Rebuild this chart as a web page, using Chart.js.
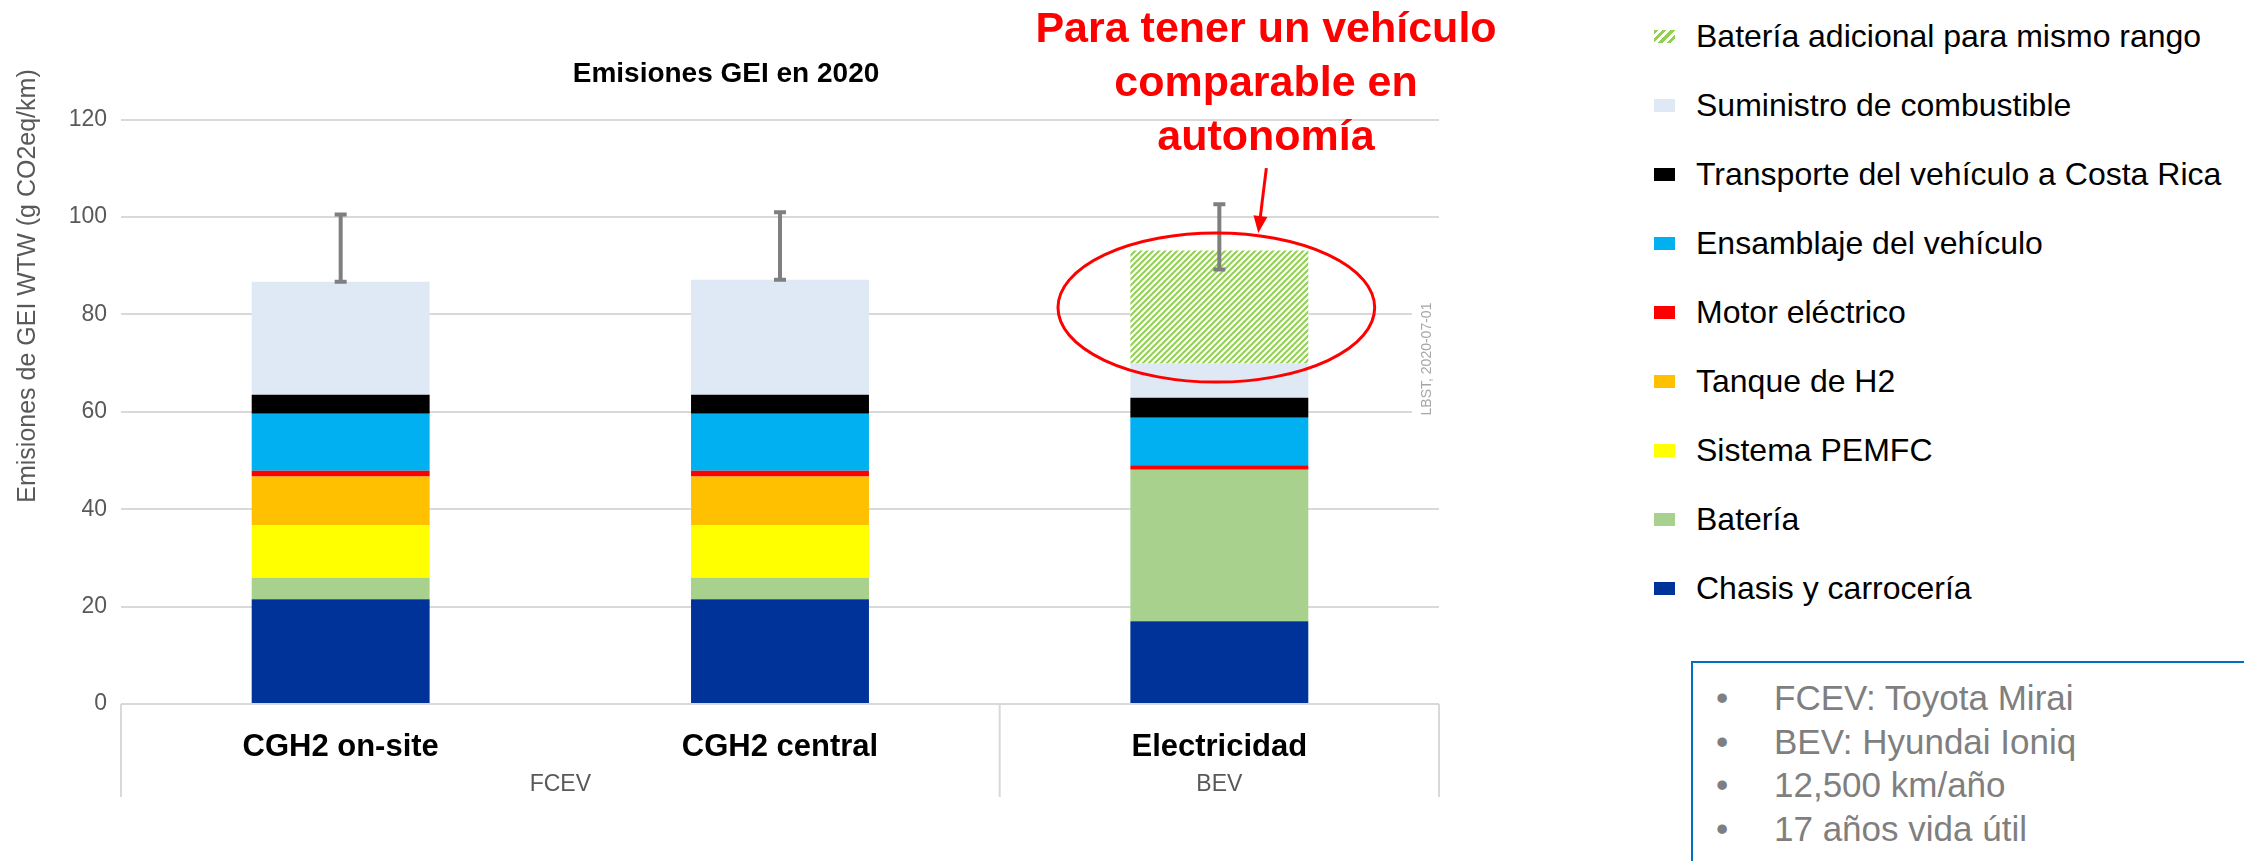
<!DOCTYPE html>
<html lang="es">
<head>
<meta charset="UTF-8">
<title>Emisiones GEI en 2020</title>
<style>
    html, body {
        margin: 0;
        padding: 0;
        background: #fff;
    }

    body {
        width: 2244px;
        height: 861px;
        overflow: hidden;
        position: relative;
        font-family: 'Liberation Sans', Arial, sans-serif;
    }

    #chartBox {
        position: absolute;
        left: 0;
        top: 0;
        width: 1490px;
        height: 861px;
    }

    .note {
        position: absolute;
        left: 966px;
        top: 0;
        width: 600px;
        text-align: center;
        color: #ff0000;
        font-weight: bold;
        font-size: 43px;
        line-height: 54px;
    }

    .legend-item {
        position: absolute;
        left: 1654px;
        height: 40px;
        line-height: 40px;
        white-space: nowrap;
        font-size: 32px;
        color: #000;
    }

    .legend-item .swatch {
        position: absolute;
        left: 0;
        top: 13.5px;
        width: 21px;
        height: 13px;
    }

    .legend-item .text {
        position: absolute;
        left: 42px;
        top: 0;
    }

    .info {
        position: absolute;
        left: 1691px;
        top: 661px;
        width: 700px;
        height: 300px;
        border: 2px solid #0070c0;
        box-sizing: border-box;
        padding-top: 13px;
        color: #7f7f7f;
        font-size: 35px;
    }

    .info .line {
        position: relative;
        height: 43.7px;
        line-height: 43.7px;
        white-space: nowrap;
    }

    .info .bullet {
        position: absolute;
        left: 23px;
    }

    .info .txt {
        position: absolute;
        left: 81px;
    }
</style>
</head>
<body>
    <div id="chartBox"><canvas id="chart" width="1490" height="861"></canvas></div>

    <div class="note">Para tener un vehículo<br>comparable en<br>autonomía</div>

    <div id="legend"></div>

    <div class="info" id="info"></div>

    <script src="https://cdn.jsdelivr.net/npm/chart.js"></script>
    <script>
        const categories = ['CGH2 on-site', 'CGH2 central', 'Electricidad'];
        const groupLabels = ['FCEV', 'BEV'];
        const groupFirst = [0, 2];
        const groupLast = [1, 2];

        // g CO2eq/km, bottom to top of each stack
        const chasis = [21.5, 21.5, 17.0];
        const bateria = [4.4, 4.4, 31.1];
        const pemfc = [10.8, 10.8, 0];
        const tanqueH2 = [10.0, 10.0, 0];
        const motor = [1.2, 1.2, 0.9];
        const ensamblaje = [11.7, 11.7, 9.8];
        const transporte = [3.9, 3.9, 4.1];
        const suministro = [23.2, 23.6, 7.0];
        const bateriaAdicional = [0, 0, 23.2];

        // error bar ranges
        const errorLow = [86.7, 87.1, 89.2];
        const errorHigh = [100.5, 101.0, 102.6];

        const yTicks = [0, 20, 40, 60, 80, 100, 120];

        const seriesNames = [
            'Chasis y carrocería',
            'Batería',
            'Sistema PEMFC',
            'Tanque de H2',
            'Motor eléctrico',
            'Ensamblaje del vehículo',
            'Transporte del vehículo a Costa Rica',
            'Suministro de combustible',
            'Batería adicional para mismo rango'
        ];
        const seriesData = [chasis, bateria, pemfc, tanqueH2, motor, ensamblaje, transporte, suministro, bateriaAdicional];
        const seriesColors = ['#003399', '#a9d18e', '#ffff00', '#ffc000', '#ff0000', '#00b0f0', '#000000', '#dee9f5', 'hatch'];

        const infoLines = ['FCEV: Toyota Mirai', 'BEV: Hyundai Ioniq', '12,500 km/año', '17 años vida útil'];

        // annotation ellipse around the extra battery (value units)
        const ellipseValue = 81.4;
        const ellipseHalfValue = 15.3;

        const canvas = document.getElementById('chart');
        const ctx = canvas.getContext('2d');

        function makeHatch() {
            const c = document.createElement('canvas');
            c.width = 6;
            c.height = 6;
            const g = c.getContext('2d');
            g.fillStyle = '#ffffff';
            g.fillRect(0, 0, 6, 6);
            g.strokeStyle = '#92d050';
            g.lineWidth = 2;
            g.beginPath();
            g.moveTo(0, 6); g.lineTo(6, 0);
            g.moveTo(-3, 3); g.lineTo(3, -3);
            g.moveTo(3, 9); g.lineTo(9, 3);
            g.stroke();
            return ctx.createPattern(c, 'repeat');
        }
        const hatch = makeHatch();

        const datasets = seriesNames.map((name, i) => ({
            label: name,
            data: seriesData[i],
            backgroundColor: seriesColors[i] === 'hatch' ? hatch : seriesColors[i],
            borderWidth: 0,
            barPercentage: 0.405,
            categoryPercentage: 1
        }));

        const overlay = {
            id: 'overlay',
            afterDatasetsDraw(chart) {
                const { ctx, scales: { x, y } } = chart;
                ctx.save();
                ctx.strokeStyle = '#7f7f7f';
                ctx.lineWidth = 4;
                errorLow.forEach((lo, i) => {
                    const px = x.getPixelForValue(i);
                    const y1 = y.getPixelForValue(lo);
                    const y2 = y.getPixelForValue(errorHigh[i]);
                    ctx.beginPath();
                    ctx.moveTo(px, y1); ctx.lineTo(px, y2);
                    ctx.moveTo(px - 6, y1); ctx.lineTo(px + 6, y1);
                    ctx.moveTo(px - 6, y2); ctx.lineTo(px + 6, y2);
                    ctx.stroke();
                });
                ctx.restore();
            },
            afterDraw(chart) {
                const { ctx, chartArea: area, scales: { x, y } } = chart;
                const step = x.getPixelForValue(1) - x.getPixelForValue(0);

                // category box under the axis
                ctx.save();
                ctx.strokeStyle = '#d9d9d9';
                ctx.lineWidth = 2;
                const boxBottom = area.bottom + 93;
                const dividers = [area.left, area.right];
                for (let g = 1; g < groupFirst.length; g++) {
                    dividers.push(x.getPixelForValue(groupFirst[g]) - step / 2);
                }
                ctx.beginPath();
                dividers.forEach(dx => {
                    ctx.moveTo(dx, area.bottom);
                    ctx.lineTo(dx, boxBottom);
                });
                ctx.stroke();

                // group labels
                ctx.fillStyle = '#595959';
                ctx.font = "23px 'Liberation Sans', Arial, sans-serif";
                ctx.textAlign = 'center';
                ctx.textBaseline = 'middle';
                groupLabels.forEach((lbl, g) => {
                    const cx = (x.getPixelForValue(groupFirst[g]) + x.getPixelForValue(groupLast[g])) / 2;
                    ctx.fillText(lbl, cx, area.bottom + 81);
                });

                // y axis title
                ctx.save();
                ctx.translate(28, 286);
                ctx.rotate(-Math.PI / 2);
                ctx.font = "25px 'Liberation Sans', Arial, sans-serif";
                ctx.fillText('Emisiones de GEI WTW (g CO2eq/km)', 0, 0);
                ctx.restore();

                // source stamp
                ctx.fillStyle = '#ffffff';
                ctx.fillRect(area.right - 27, 295, 34, 125);
                ctx.save();
                ctx.translate(area.right - 12, 359);
                ctx.rotate(-Math.PI / 2);
                ctx.fillStyle = '#a6a6a6';
                ctx.font = "14px 'Liberation Sans', Arial, sans-serif";
                ctx.fillText('LBST, 2020-07-01', 0, 0);
                ctx.restore();

                // red ellipse + arrow
                const barW = step * 0.405;
                const cx = x.getPixelForValue(2) - 3;
                const cy = y.getPixelForValue(ellipseValue);
                const ry = y.getPixelForValue(ellipseValue - ellipseHalfValue) - cy;
                const rx = barW * 0.89;
                ctx.strokeStyle = '#ff0000';
                ctx.lineWidth = 3;
                ctx.beginPath();
                ctx.ellipse(cx, cy, rx, ry, 0, 0, Math.PI * 2);
                ctx.stroke();

                const tipX = cx + 42, tipY = cy - ry;
                const startX = tipX + 8, startY = tipY - 65;
                const ang = Math.atan2(tipY - startY, tipX - startX);
                ctx.beginPath();
                ctx.moveTo(startX, startY);
                ctx.lineTo(tipX - 14 * Math.cos(ang), tipY - 14 * Math.sin(ang));
                ctx.stroke();
                ctx.fillStyle = '#ff0000';
                ctx.beginPath();
                ctx.moveTo(tipX, tipY);
                ctx.lineTo(tipX - 17 * Math.cos(ang) + 7 * Math.sin(ang), tipY - 17 * Math.sin(ang) - 7 * Math.cos(ang));
                ctx.lineTo(tipX - 17 * Math.cos(ang) - 7 * Math.sin(ang), tipY - 17 * Math.sin(ang) + 7 * Math.cos(ang));
                ctx.closePath();
                ctx.fill();
                ctx.restore();
            }
        };

        Chart.defaults.font.family = "'Liberation Sans', Arial, sans-serif";

        new Chart(ctx, {
            type: 'bar',
            data: { labels: categories, datasets: datasets },
            options: {
                responsive: false,
                animation: false,
                devicePixelRatio: 1,
                layout: { padding: { left: 13, right: 51, top: 0, bottom: 0 } },
                plugins: {
                    legend: { display: false },
                    tooltip: { enabled: false },
                    title: {
                        display: true,
                        text: 'Emisiones GEI en 2020',
                        color: '#000',
                        font: { size: 28, weight: 'bold' },
                        padding: { top: 57, bottom: 29 }
                    }
                },
                scales: {
                    x: {
                        stacked: true,
                        grid: { display: false },
                        border: { display: false },
                        ticks: {
                            color: '#000',
                            font: { size: 31, weight: 'bold' },
                            padding: 17,
                            maxRotation: 0,
                            autoSkip: false
                        },
                        afterFit: s => { s.height = 157; }
                    },
                    y: {
                        stacked: true,
                        min: 0,
                        max: 120,
                        grid: { color: '#d9d9d9', lineWidth: 2, drawTicks: false },
                        border: { display: false },
                        ticks: { color: '#595959', font: { size: 23 }, padding: 14 },
                        afterBuildTicks: s => { s.ticks = yTicks.map(v => ({ value: v })); },
                        afterFit: s => { s.width = 108; }
                    }
                }
            },
            plugins: [overlay]
        });

        // legend, top entry = top of the stack
        const legend = document.getElementById('legend');
        seriesNames.slice().reverse().forEach((name, i) => {
            const color = seriesColors[seriesNames.length - 1 - i];
            const item = document.createElement('div');
            item.className = 'legend-item';
            item.style.top = (36 + 69 * i - 20) + 'px';
            const sw = document.createElement('span');
            sw.className = 'swatch';
            sw.style.background = color === 'hatch'
                ? 'repeating-linear-gradient(135deg, #92d050 0 3px, #ffffff 3px 6px)'
                : color;
            const tx = document.createElement('span');
            tx.className = 'text';
            tx.textContent = name;
            item.appendChild(sw);
            item.appendChild(tx);
            legend.appendChild(item);
        });

        const info = document.getElementById('info');
        infoLines.forEach(t => {
            const line = document.createElement('div');
            line.className = 'line';
            line.innerHTML = '<span class="bullet">•</span><span class="txt"></span>';
            line.querySelector('.txt').textContent = t;
            info.appendChild(line);
        });
    </script>
</body>
</html>
